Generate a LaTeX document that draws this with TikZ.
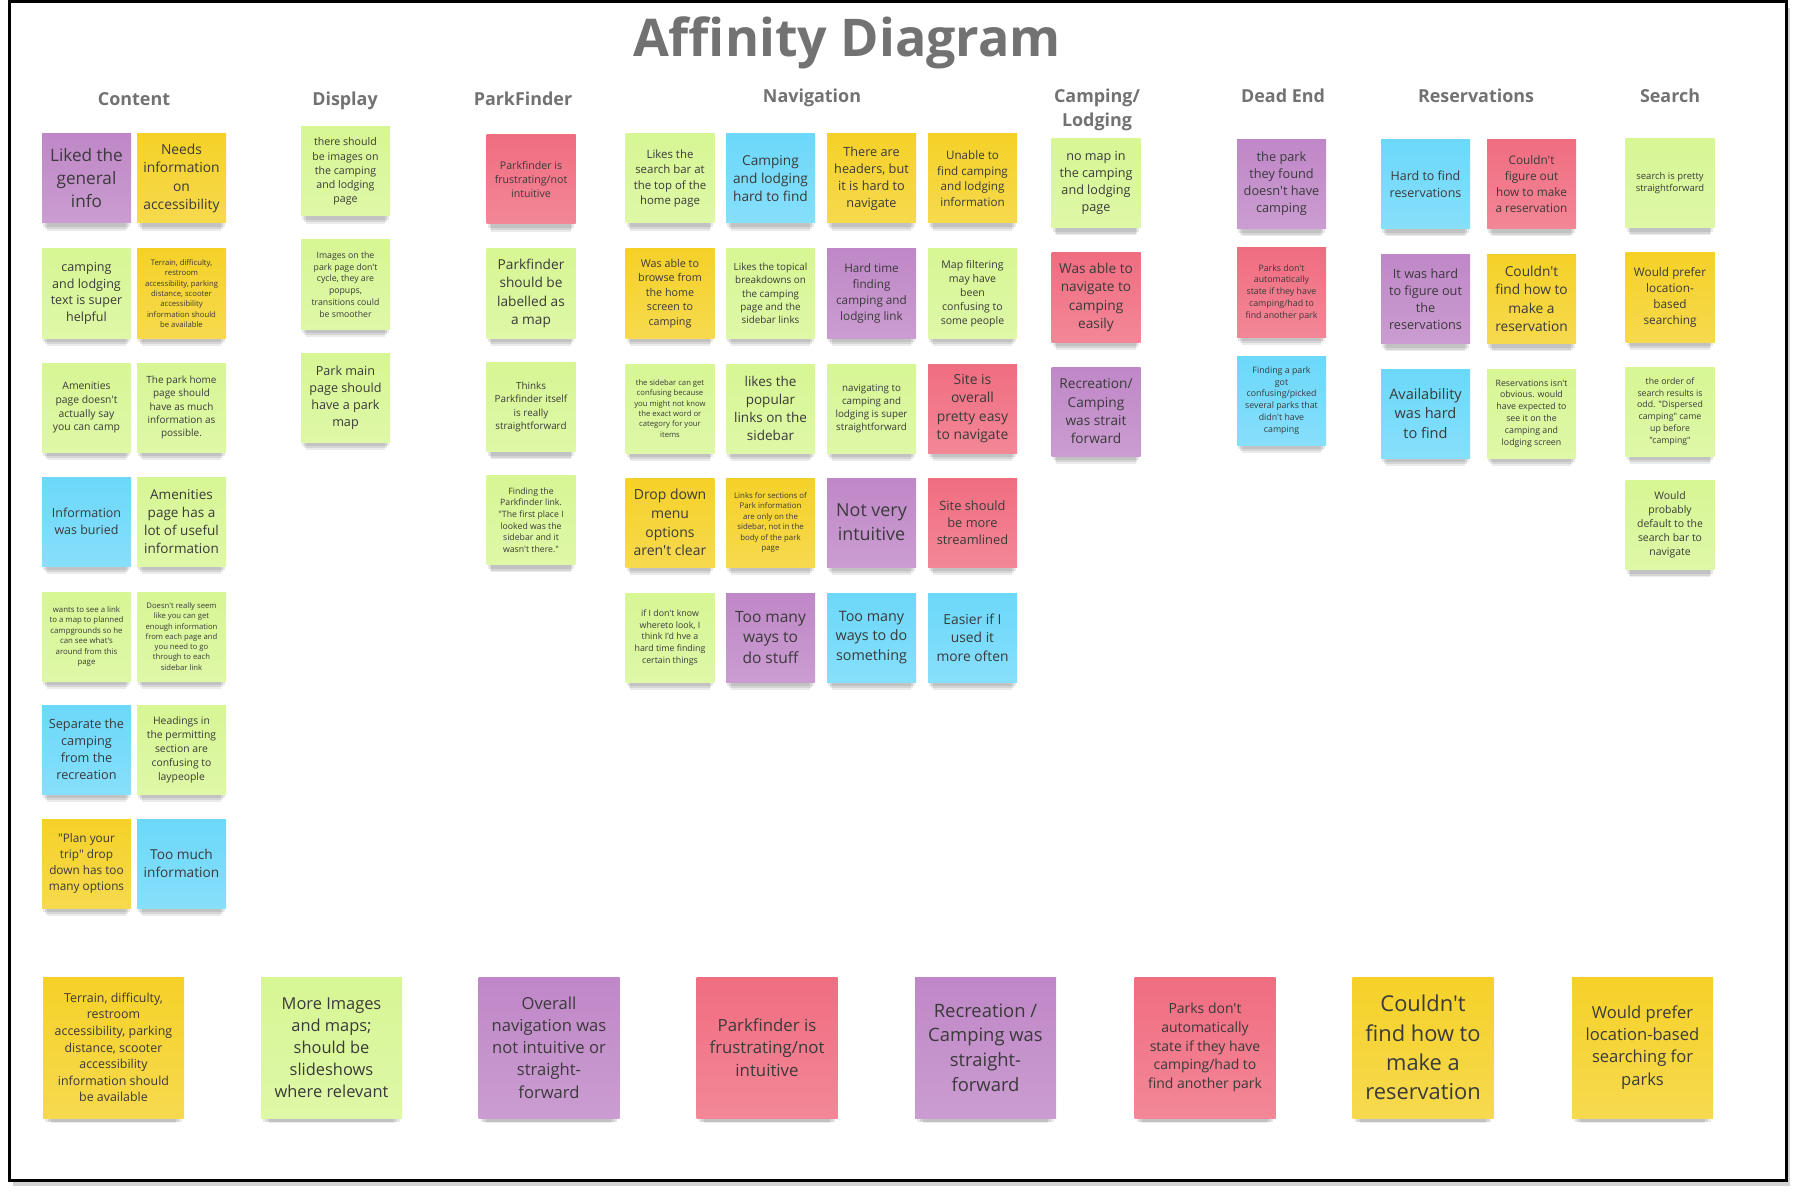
\documentclass[tikz,border=0pt]{standalone}
\usepackage{fontspec}
\setmainfont{Open Sans}[Ligatures=TeXOff]
\usepackage{xcolor}
\definecolor{stkyellow}{HTML}{F5D128}
\definecolor{stkgreen}{HTML}{D7F694}
\definecolor{stkblue}{HTML}{6CD8FA}
\definecolor{stkpink}{HTML}{F06D80}
\definecolor{stkviolet}{HTML}{BF87C7}
\definecolor{inktext}{HTML}{3A3A3A}
\definecolor{headgray}{HTML}{727272}
\usetikzlibrary{shadows}
\newcommand\fz[1]{\fontsize{\fpeval{round(#1/1.34,2)}}{#1}\selectfont}

\begin{document}
\begin{tikzpicture}[x=1pt, y=-1pt,
    shd/.style={general shadow={fill=black, opacity=.09, shadow yshift=-6pt, shadow scale=.97},
      general shadow={fill=black, opacity=.09, shadow yshift=-10pt, shadow scale=.93},
      general shadow={fill=black, opacity=.08, shadow yshift=-14pt, shadow scale=.89}},
    note/.style={rectangle, minimum width=89pt, minimum height=89pt, inner sep=2pt, align=center,
      top color=#1, bottom color=#1!82!white, text=inktext, shd},
    big/.style={note=#1, minimum width=141pt, minimum height=141pt},
    hd/.style={font=\bfseries\fz{24}, text=headgray, align=center, anchor=base},
    tx/.style={font=\fz{#1}}
  ]
  \useasboundingbox (0,0) rectangle (1796,1198);
  \draw[line width=3pt, fill=white, general shadow={fill=black, opacity=.18, shadow xshift=4pt, shadow yshift=-6pt}]
    (9,2) rectangle (1786,1180);

  \node[font=\bfseries\fontsize{52}{60}\selectfont, text=headgray, anchor=base] (title) at (847,57) {Affinity Diagram};

  % group headings
  \node[hd] (hcont) at (134,106) {Content};
  \node[hd] (hdisp) at (345,106) {Display};
  \node[hd] (hpark) at (523,106) {ParkFinder};
  \node[hd] (hnav)  at (812,103) {Navigation};
  \node[hd, anchor=north] (hcamp) at (1097,85) {Camping/\\Lodging};
  \node[hd] (hdead) at (1283,103) {Dead End};
  \node[hd] (hres)  at (1476,103) {Reservations};
  \node[hd] (hsrch) at (1670,103) {Search};

  % Content
  \node[note=stkviolet, tx=23]   (ct1a) at (86.5,178.5) {Liked the\\general\\info};
  \node[note=stkyellow, tx=18.5] (ct1b) at (181.5,178.5) {Needs\\information\\on\\accessibility};
  \node[note=stkgreen, tx=16.8]  (ct2a) at (86.5,293.5) {camping\\and lodging\\text is super\\helpful};
  \node[note=stkyellow, tx=10.3] (ct2b) at (181.5,293.5) {Terrain, difficulty,\\restroom\\accessibility, parking\\distance, scooter\\accessibility\\information should\\be available};
  \node[note=stkgreen, tx=13.9]  (ct3a) at (86.5,407.5) {Amenities\\page doesn't\\actually say\\you can camp};
  \node[note=stkgreen, tx=13.3]  (ct3b) at (181.5,407.5) {The park home\\page should\\have as much\\information as\\possible.};
  \node[note=stkblue, tx=16.7]   (ct4a) at (86.5,521.5) {Information\\was buried};
  \node[note=stkgreen, tx=18.1]  (ct4b) at (181.5,521.5) {Amenities\\page has a\\lot of useful\\information};
  \node[note=stkgreen, tx=10.5]  (ct5a) at (86.5,636.5) {wants to see a link\\to a map to planned\\campgrounds so he\\can see what's\\around from this\\page};
  \node[note=stkgreen, tx=10.3]  (ct5b) at (181.5,636.5) {Doesn't really seem\\like you can get\\enough information\\from each page and\\you need to go\\through to each\\sidebar link};
  \node[note=stkblue, tx=17]     (ct6a) at (86.5,749.5) {Separate the\\camping\\from the\\recreation};
  \node[note=stkgreen, tx=13.9]  (ct6b) at (181.5,749.5) {Headings in\\the permitting\\section are\\confusing to\\laypeople};
  \node[note=stkyellow, tx=15.8] (ct7a) at (86.5,863.5) {"Plan your\\trip" drop\\down has too\\many options};
  \node[note=stkblue, tx=18.3]   (ct7b) at (181.5,863.5) {Too much\\information};

  % Display
  \node[note=stkgreen, tx=14.2] (ds1) at (345.5,171.5) {there should\\be images on\\the camping\\and lodging\\page};
  \node[note=stkgreen, tx=11.7] (ds2) at (345.5,284.5) {Images on the\\park page don't\\cycle, they are\\popups,\\transitions could\\be smoother};
  \node[note=stkgreen, tx=16.9] (ds3) at (345.5,397.5) {Park main\\page should\\have a park\\map};

  % ParkFinder
  \node[note=stkpink, tx=14.2]  (pf1) at (531,179.5) {Parkfinder is\\frustrating/not\\intuitive};
  \node[note=stkgreen, tx=18.3] (pf2) at (531,293.5) {Parkfinder\\should be\\labelled as\\a map};
  \node[note=stkgreen, tx=13.2] (pf3) at (531,407) {Thinks\\Parkfinder itself\\is really\\straightforward};
  \node[note=stkgreen, tx=11.7] (pf4) at (531,520) {Finding the\\Parkfinder link.\\"The first place I\\looked was the\\sidebar and it\\wasn't there."};

  % Navigation
  \node[note=stkgreen, tx=15.3]  (nv1a) at (670,178.5) {Likes the\\search bar at\\the top of the\\home page};
  \node[note=stkblue, tx=18.3]   (nv1b) at (770.5,178.5) {Camping\\and lodging\\hard to find};
  \node[note=stkyellow, tx=17]   (nv1c) at (871.5,178.5) {There are\\headers, but\\it is hard to\\navigate};
  \node[note=stkyellow, tx=15.6] (nv1d) at (972.5,178.5) {Unable to\\find camping\\and lodging\\information};
  \node[note=stkyellow, tx=14.4] (nv2a) at (670,293.5) {Was able to\\browse from\\the home\\screen to\\camping};
  \node[note=stkgreen, tx=13.2]  (nv2b) at (770.5,293.5) {Likes the topical\\breakdowns on\\the camping\\page and the\\sidebar links};
  \node[note=stkviolet, tx=15.7] (nv2c) at (871.5,293.5) {Hard time\\finding\\camping and\\lodging link};
  \node[note=stkgreen, tx=14.1]  (nv2d) at (972.5,293.5) {Map filtering\\may have\\been\\confusing to\\some people};
  \node[note=stkgreen, tx=10.3]  (nv3a) at (670,408.5) {the sidebar can get\\confusing because\\you might not know\\the exact word or\\category for your\\items};
  \node[note=stkgreen, tx=18.1]  (nv3b) at (770.5,408.5) {likes the\\popular\\links on the\\sidebar};
  \node[note=stkgreen, tx=13.1]  (nv3c) at (871.5,408.5) {navigating to\\camping and\\lodging is super\\straightforward};
  \node[note=stkpink, tx=18.6]   (nv3d) at (972.5,408.5) {Site is\\overall\\pretty easy\\to navigate};
  \node[note=stkyellow, tx=18.7] (nv4a) at (670,522.5) {Drop down\\menu\\options\\aren't clear};
  \node[note=stkyellow, tx=10.5] (nv4b) at (770.5,522.5) {Links for sections of\\Park information\\are only on the\\sidebar, not in the\\body of the park\\page};
  \node[note=stkviolet, tx=24]   (nv4c) at (871.5,522.5) {Not very\\intuitive};
  \node[note=stkpink, tx=17.2]   (nv4d) at (972.5,522.5) {Site should\\be more\\streamlined};
  \node[note=stkgreen, tx=11.8]  (nv5a) at (670,637.5) {if I don't know\\whereto look, I\\think I'd hve a\\hard time finding\\certain things};
  \node[note=stkviolet, tx=20.8] (nv5b) at (770.5,637.5) {Too many\\ways to\\do stuff};
  \node[note=stkblue, tx=19.2]   (nv5c) at (871.5,637.5) {Too many\\ways to do\\something};
  \node[note=stkblue, tx=18.5]   (nv5d) at (972.5,637.5) {Easier if I\\used it\\more often};

  % Camping/Lodging
  \node[note=stkgreen, tx=16.9]  (cl1) at (1096,183) {no map in\\the camping\\and lodging\\page};
  \node[note=stkpink, tx=18.3]   (cl2) at (1096,297.5) {Was able to\\navigate to\\camping\\easily};
  \node[note=stkviolet, tx=18.3] (cl3) at (1096,411.5) {Recreation/\\Camping\\was strait\\forward};

  % Dead End
  \node[note=stkviolet, tx=17.1] (de1) at (1281.5,184) {the park\\they found\\doesn't have\\camping};
  \node[note=stkpink, tx=11.8]   (de2) at (1281.5,292.5) {Parks don't\\automatically\\state if they have\\camping/had to\\find another park};
  \node[note=stkblue, tx=11.8]   (de3) at (1281.5,400.5) {Finding a park\\got\\confusing/picked\\several parks that\\didn't have\\camping};

  % Reservations
  \node[note=stkblue, tx=16.7]   (rs1a) at (1425.5,184) {Hard to find\\reservations};
  \node[note=stkpink, tx=15.8]   (rs1b) at (1531.5,184) {Couldn't\\figure out\\how to make\\a reservation};
  \node[note=stkviolet, tx=17]   (rs2a) at (1425.5,299) {It was hard\\to figure out\\the\\reservations};
  \node[note=stkyellow, tx=18.4] (rs2b) at (1531.5,299) {Couldn't\\find how to\\make a\\reservation};
  \node[note=stkblue, tx=19.5]   (rs3a) at (1425.5,413.5) {Availability\\was hard\\to find};
  \node[note=stkgreen, tx=11.8]  (rs3b) at (1531.5,413.5) {Reservations isn't\\obvious. would\\have expected to\\see it on the\\camping and\\lodging screen};

  % Search
  \node[note=stkgreen, tx=12.7]  (sr1) at (1670,183) {search is pretty\\straightforward};
  \node[note=stkyellow, tx=15.8] (sr2) at (1670,297.5) {Would prefer\\location-\\based\\searching};
  \node[note=stkgreen, tx=11.7]  (sr3) at (1670,411.5) {the order of\\search results is\\odd. "Dispersed\\camping" came\\up before\\"camping"};
  \node[note=stkgreen, tx=14]    (sr4) at (1670,525) {Would\\probably\\default to the\\search bar to\\navigate};

  % summary notes
  \node[big=stkyellow, tx=16.6] (sm1) at (113.5,1047.5) {Terrain, difficulty,\\restroom\\accessibility, parking\\distance, scooter\\accessibility\\information should\\be available};
  \node[big=stkgreen, tx=22]    (sm2) at (331.5,1047.5) {More Images\\and maps;\\should be\\slideshows\\where relevant};
  \node[big=stkviolet, tx=22.2] (sm3) at (549,1047.5) {Overall\\navigation was\\not intuitive or\\straight-\\forward};
  \node[big=stkpink, tx=22.5]   (sm4) at (767,1047.5) {Parkfinder is\\frustrating/not\\intuitive};
  \node[big=stkviolet, tx=24.7] (sm5) at (985.5,1047.5) {Recreation /\\Camping was\\straight-\\forward};
  \node[big=stkpink, tx=18.7]   (sm6) at (1205,1047.5) {Parks don't\\automatically\\state if they have\\camping/had to\\find another park};
  \node[big=stkyellow, tx=29.3] (sm7) at (1423,1047.5) {Couldn't\\find how to\\make a\\reservation};
  \node[big=stkyellow, tx=22.2] (sm8) at (1642.5,1047.5) {Would prefer\\location-based\\searching for\\parks};
\end{tikzpicture}
\end{document}
